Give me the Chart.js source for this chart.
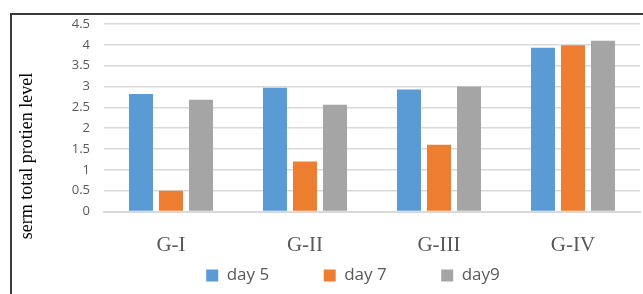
<!DOCTYPE html>
<html>
<head>
<meta charset="utf-8">
<style>
  html, body { margin: 0; padding: 0; background: #fff; }
  #wrap { width: 643px; height: 294px; position: relative; }
</style>
<script src="https://cdn.jsdelivr.net/npm/chart.js@4"></script>
</head>
<body>
<div id="wrap"><canvas id="myChart" width="643" height="294"></canvas></div>
<script>
var groups = ["G-I", "G-II", "G-III", "G-IV"];
var day5 = [2.82, 2.97, 2.93, 3.93];
var day7 = [0.5, 1.2, 1.6, 3.99];
var day9 = [2.68, 2.56, 3.0, 4.1];
var yTitle = "serm total protien level";

// frame and rotated axis title
var decor = {
    id: 'decor',
    beforeDraw: function (chart) {
        var c = chart.ctx;
        c.save();
        c.strokeStyle = '#3a3a3a';
        c.lineWidth = 2;
        c.strokeRect(11, 14, 700, 400);
        c.restore();
    },
    afterDraw: function (chart) {
        var c = chart.ctx;
        c.save();
        c.translate(27, 156);
        c.rotate(-Math.PI / 2);
        c.font = '18px "Liberation Serif"';
        c.fillStyle = '#000';
        c.textAlign = 'center';
        c.textBaseline = 'middle';
        c.fillText(yTitle, 0, 0);
        c.restore();
    }
};

var ctx = document.getElementById("myChart");
var myChart = new Chart(ctx, {
    type: 'bar',
    data: {
        labels: groups,
        datasets: [{
            label: 'day 5',
            data: day5,
            backgroundColor: '#5b9bd5'
        }, {
            label: 'day 7',
            data: day7,
            backgroundColor: '#ed7d31'
        }, {
            label: 'day9',
            data: day9,
            backgroundColor: '#a5a5a5'
        }]
    },
    options: {
        responsive: false,
        animation: false,
        layout: { padding: { top: 24, right: 3, left: 66, bottom: 0 } },
        datasets: {
            bar: { categoryPercentage: 0.672, barPercentage: 0.8 }
        },
        plugins: {
            legend: {
                position: 'bottom',
                labels: {
                    boxWidth: 12,
                    boxHeight: 12,
                    padding: 54.5,
                    color: '#595959',
                    font: { family: 'Open Sans', size: 17 }
                }
            },
            tooltip: { enabled: false }
        },
        scales: {
            x: {
                grid: { display: false },
                border: { color: '#d9d9d9', width: 2 },
                ticks: {
                    mirror: true, // keeps the labels unclipped below the thin axis box
                    color: '#595959',
                    padding: -47,
                    font: { family: 'Liberation Serif', size: 21 }
                },
                afterFit: function (s) { s.height = 1; }
            },
            y: {
                min: 0,
                max: 4.5,
                grid: { color: '#d9d9d9', lineWidth: 1.5, drawTicks: false },
                border: { display: false },
                ticks: {
                    stepSize: 0.5,
                    autoSkip: false,
                    color: '#595959',
                    padding: 14,
                    font: { family: 'Open Sans', size: 13 },
                    callback: function (v) { return String(v); }
                },
                afterFit: function (s) { s.width = 38; }
            }
        }
    },
    plugins: [decor]
});
</script>
</body>
</html>
